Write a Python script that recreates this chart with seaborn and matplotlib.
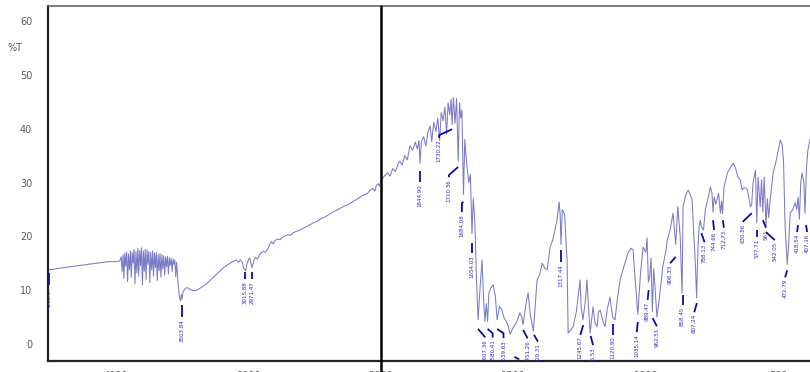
import numpy as np
import pandas as pd
import matplotlib
matplotlib.use("Agg")
import matplotlib.pyplot as plt
import seaborn as sns
from matplotlib import font_manager
from matplotlib.ticker import FixedLocator

# ---------------- spectrum data (wavenumber cm-1, %T) ----------------
wn_left = [4515, 4508, 4500, 4470, 4420, 4360, 4300, 4240, 4180, 4120, 4060, 4000, 3975,
           3968, 3960, 3953, 3946, 3940, 3933, 3926, 3919, 3912, 3905, 3898, 3891, 3884, 3877,
           3870, 3863, 3856, 3849, 3842, 3835, 3828, 3821, 3814, 3807, 3800, 3793, 3786, 3779,
           3772, 3765, 3758, 3751, 3744, 3737, 3730, 3723, 3716, 3709, 3702, 3695, 3688, 3681,
           3674, 3667, 3660, 3653, 3646, 3639, 3632, 3625, 3618, 3611, 3604, 3597, 3590, 3583,
           3576, 3569, 3562, 3555, 3548, 3542, 3536,
           3528, 3520, 3512, 3506, 3500, 3494, 3486, 3476, 3465, 3450, 3430, 3410, 3390, 3370,
           3350, 3320, 3290, 3260, 3230, 3200, 3170, 3140, 3110, 3090, 3075, 3060, 3045, 3035,
           3028, 3020, 3012, 3000, 2990, 2980, 2973, 2965, 2955, 2945, 2930, 2915, 2900, 2885,
           2870, 2855, 2840, 2825, 2812, 2800, 2780, 2760, 2740, 2720, 2700, 2680, 2660, 2640,
           2620, 2600, 2570, 2540, 2510, 2480, 2450, 2420, 2390, 2360, 2330, 2300, 2270, 2240,
           2210, 2180, 2150, 2120, 2100, 2080, 2060, 2045, 2035, 2020, 2010]
t_left = [13.7, 13.9, 13.8, 13.9, 14.1, 14.3, 14.5, 14.7, 14.9, 15.1, 15.3, 15.3, 15.4,
          15.6, 16.2, 13.5, 16.6, 12.2, 16.9, 14.5, 17.1, 11.6, 16.7, 13.8, 17.3, 12.4, 17.0,
          15.0, 17.6, 11.2, 17.2, 13.2, 17.8, 12.6, 17.4, 14.6, 17.9, 11.0, 17.3, 13.5, 17.6,
          12.0, 17.5, 14.8, 17.2, 11.4, 17.0, 13.8, 17.3, 12.6, 16.9, 14.2, 17.0, 11.8, 16.6,
          13.6, 16.8, 12.4, 16.6, 14.0, 16.4, 12.8, 16.2, 14.4, 16.3, 13.0, 16.0, 14.6, 15.9,
          13.4, 15.8, 14.8, 15.6, 12.5, 15.2, 13.0,
          10.5, 8.6, 8.0, 9.2, 8.4, 9.6, 10.0, 10.3, 10.5, 10.3, 10.0, 9.9, 10.0, 10.3,
          10.6, 11.1, 11.8, 12.5, 13.2, 13.9, 14.5, 15.0, 15.4, 15.6, 15.2, 15.6, 15.1, 14.0,
          13.9, 13.6, 14.8, 15.6, 16.0, 14.9, 14.2, 14.8, 15.8, 16.1, 15.8, 16.6, 17.0, 17.2,
          17.0, 17.6, 18.4, 19.0, 18.6, 19.2, 19.5, 19.4, 19.9, 20.1, 20.3, 20.2, 20.7, 20.9,
          21.1, 21.3, 21.7, 22.1, 22.5, 22.8, 23.3, 23.6, 24.1, 24.5, 24.9, 25.3, 25.7, 26.0,
          26.5, 26.9, 27.4, 27.8, 28.0, 28.6, 28.9, 28.4, 29.4, 29.8, 29.3]

wn_right = [2000, 1990, 1975, 1965, 1955, 1945, 1935, 1928, 1920, 1910, 1900, 1890, 1880, 1870,
            1862, 1856, 1852, 1847, 1838, 1830, 1822, 1814, 1808, 1800, 1792, 1785, 1778, 1772,
            1765, 1758, 1752, 1746, 1740, 1735, 1731, 1726, 1720, 1714, 1708, 1703, 1698, 1694,
            1691, 1688, 1683, 1676, 1668, 1662, 1656, 1651, 1645, 1639, 1633, 1626, 1618, 1612,
            1607, 1602, 1597, 1592, 1584, 1576, 1568, 1561, 1552, 1543, 1536, 1530, 1520, 1512,
            1501, 1488, 1475, 1468, 1463, 1452, 1444, 1436, 1430, 1424, 1416, 1410, 1400, 1391,
            1380, 1372, 1361, 1350, 1335, 1327, 1323, 1320, 1315, 1306, 1300, 1297, 1293, 1285,
            1274, 1262, 1248, 1244, 1237, 1228, 1222, 1215, 1210, 1199, 1192, 1184, 1178, 1172,
            1160, 1154, 1145, 1135, 1125, 1116, 1108, 1097, 1085, 1067, 1055, 1048, 1040, 1030,
            1020, 1010, 1000, 995, 990, 985, 980, 975, 970, 963, 958, 950, 943, 936, 925, 918,
            908, 897, 887, 879, 870, 863, 859, 850, 840, 830, 825, 818, 812, 808, 803, 798,
            794, 790, 782, 775, 765, 756, 750, 746, 742, 735, 725, 718, 714, 710, 705, 692,
            680, 669, 660, 652, 643, 636, 630, 622, 616, 610, 605, 600, 595, 586, 581, 576,
            568, 563, 558, 553, 546, 541, 536, 530, 519, 508, 500, 492, 485, 480, 474, 466,
            460, 455, 445, 436, 430, 425, 420, 415, 410, 403, 399, 393, 388, 382, 380]
t_right = [30.2, 31.0, 31.8, 31.2, 32.6, 32.0, 33.4, 34.0, 33.2, 35.0, 34.2, 36.8, 36.0, 37.5,
           36.2, 37.8, 33.6, 37.6, 38.5, 36.8, 39.5, 40.5, 37.6, 41.2, 39.5, 42.0, 37.8, 43.0,
           41.5, 44.0, 39.0, 44.8, 42.6, 45.5, 40.8, 45.8, 41.0, 45.6, 34.0, 44.8, 42.0, 43.5,
           36.0, 27.8, 38.0, 33.5, 30.0, 31.5, 20.5, 27.0, 22.5, 12.0, 4.5, 10.0, 15.6, 8.0,
           4.2, 7.5, 4.2, 9.5, 10.5, 11.0, 9.0, 4.5, 7.0, 6.3, 5.0, 4.5, 3.5, 1.8,
           3.0, 4.0, 5.8, 5.0, 3.6, 7.5, 9.5, 5.5, 4.0, 2.4, 8.0, 11.9, 13.0, 15.0,
           14.0, 13.8, 18.0, 19.5, 23.0, 26.4, 24.0, 18.5, 25.0, 24.0, 18.0, 15.6, 2.0, 2.5,
           3.2, 6.0, 11.9, 7.0, 4.5, 8.0, 11.9, 6.0, 2.0, 6.9, 4.0, 3.2, 6.0, 6.3,
           4.0, 3.2, 6.5, 8.7, 5.0, 4.5, 8.0, 11.9, 14.0, 16.9, 17.8, 17.5, 12.0, 5.5,
           13.0, 18.0, 17.0, 19.7, 11.5, 12.5, 16.0, 6.0, 14.0, 9.0, 5.0, 8.0, 11.0, 14.3, 17.0, 19.5,
           21.2, 24.3, 18.5, 25.5, 20.0, 9.5, 25.5, 27.5, 28.6, 27.5, 26.8, 20.0, 14.0, 8.6, 18.0, 22.0,
           23.0, 21.8, 21.2, 25.0, 27.0, 29.2, 28.0, 24.5, 27.3, 26.0, 28.0, 24.3, 26.5, 24.2, 29.0, 31.8,
           32.8, 33.6, 32.5, 31.0, 30.5, 28.6, 29.0, 29.0, 28.6, 27.0, 25.5, 26.0, 30.0, 32.3, 22.5, 31.0,
           25.5, 30.5, 24.5, 31.0, 22.0, 27.0, 23.5, 27.0, 31.8, 34.0, 36.0, 37.9, 37.0, 34.0, 22.0, 14.8,
           19.0, 24.3, 25.0, 26.2, 25.0, 27.3, 23.2, 30.0, 31.8, 30.0, 24.3, 33.0, 36.0, 37.5, 38.0]

# ---------------- peak labels ----------------
label_text = ["4503.17", "3503.84", "3015.88", "2971.47",
              "1844.90", "1730.22", "1710.36", "1684.08", "1654.03",
              "1607.36", "1580.41", "1539.63", "1488.06", "1451.26", "1409.31",
              "1317.44", "1245.67", "1196.53", "1120.90", "1035.14", "989.47", "962.51",
              "906.33", "858.45", "807.24", "788.13", "744.66", "712.73", "630.86",
              "577.71", "561", "542.05", "472.79", "418.54", "407.16"]
# layout of the labels: text position, peak end of the leader, knee and stub end (%T)
label_wn = [4503, 3503.84, 3028, 2973,
            1852, 1780, 1743, 1694, 1656,
            1607, 1578, 1537, 1480, 1446, 1407,
            1320, 1247, 1199, 1123, 1034, 993, 958,
            908, 861, 817, 778, 742, 705, 634,
            581, 546, 513, 474, 429, 391]
label_peak_wn = [4503, 3503.84, 3028, 2973,
                 1852, 1731, 1708, 1688, 1656,
                 1633, 1597, 1561, 1496, 1463, 1422,
                 1320, 1236, 1208, 1123, 1030, 989, 974,
                 887, 861, 807, 790, 746, 709, 600,
                 581, 558, 546, 466, 425, 395]
label_peak_t = [13.2, 7.2, 13.4, 13.4,
                32.1, 39.9, 32.9, 26.4, 18.8,
                2.8, 2.8, 2.8, -2.4, 2.6, 1.7,
                17.5, 3.5, 1.5, 3.7, 4.1, 10.0, 4.8,
                16.2, 9.1, 7.6, 20.6, 23.0, 23.0, 24.3,
                21.2, 23.0, 20.8, 13.7, 22.1, 22.1]
label_knee_t = [13.2, 7.2, 13.4, 13.4,
                32.1, 38.8, 31.4, 26.2, 18.8,
                1.3, 2.0, 2.0, -2.8, 1.05, 0.45,
                17.5, 1.7, -0.2, 3.7, 2.2, 8.2, 3.3,
                15.0, 9.1, 5.9, 18.9, 21.2, 21.6, 22.7,
                21.2, 21.6, 19.3, 12.4, 20.8, 20.8]
label_stub_t = [11.0, 5.0, 12.1, 12.1,
                30.1, 38.3, 31.0, 24.5, 16.9,
                1.2, 1.2, 1.1, -2.9, 1.05, 0.45,
                15.2, 1.7, -0.2, 1.7, 2.2, 8.2, 3.3,
                15.0, 7.2, 5.9, 18.9, 21.2, 21.6, 22.7,
                19.9, 21.6, 19.3, 12.4, 20.8, 20.8]

x_major = [4000, 3000, 2000, 1500, 1000, 500]
x_minor = [4400, 4200, 3800, 3600, 3400, 3200, 2800, 2600, 2400, 2200,
           1900, 1800, 1700, 1600, 1400, 1300, 1200, 1100, 900, 800, 700, 600, 400]
y_major = [0, 10, 20, 30, 40, 50, 60]
y_minor = [-2, 2, 4, 6, 8, 12, 14, 16, 18, 22, 24, 26, 28, 32, 34, 36, 38,
           42, 44, 46, 48, 52, 54, 56, 58, 62]

# ---------------- styling ----------------
sns.set_style("white")
plt.rcParams["font.family"] = ["DejaVu Sans"]
fonts = font_manager.fontManager.ttflist
names = {f.name for f in fonts}
has_condensed = any(f.name == "DejaVu Sans" and f.stretch == "condensed" for f in fonts)
if "Liberation Sans Narrow" in names:
    lab_font = dict(family="Liberation Sans Narrow", fontsize=5.0)
elif has_condensed:
    lab_font = dict(family="DejaVu Sans", fontstretch="condensed", fontsize=4.4)
else:
    lab_font = dict(family="DejaVu Sans", fontsize=4.0)

fig = plt.figure(figsize=(8.1, 3.72), dpi=100)
ax = fig.add_axes([47.7 / 810, 11 / 372, 1 - 47.7 / 810, (361 - 6) / 372])


def fwd(x):
    x = np.asarray(x, dtype=float)
    return np.where(x >= 2000, x, 2 * x - 2000)


def inv(u):
    u = np.asarray(u, dtype=float)
    return np.where(u >= 2000, u, (u + 2000) / 2)


ax.set_xscale("function", functions=(fwd, inv))

df = pd.DataFrame({"wn": wn_left + wn_right, "T": t_left + t_right})
sns.lineplot(data=df, x="wn", y="T", sort=False, estimator=None, ax=ax,
             color="#6c6cc2", lw=0.75, alpha=0.9)

ax.set_xlim(4515, 380)
ax.set_ylim(-3.16, 62.8)
ax.set_xlabel("")
ax.set_ylabel("")

ax.xaxis.set_major_locator(FixedLocator(x_major))
ax.xaxis.set_minor_locator(FixedLocator(x_minor))
ax.set_xticklabels([str(v) for v in x_major])
ax.yaxis.set_major_locator(FixedLocator(y_major))
ax.yaxis.set_minor_locator(FixedLocator(y_minor))
ax.set_yticklabels([str(v) for v in y_major])

tick_col = "#333333"
ax.tick_params(axis="x", which="major", direction="out", length=7, width=1.3,
               color=tick_col, labelsize=7, labelcolor="#5e5a58", pad=0.0)
ax.tick_params(axis="x", which="minor", direction="out", length=3, width=1.1, color=tick_col)
ax.tick_params(axis="y", which="major", direction="out", length=9, width=1.0,
               color=tick_col, labelsize=7, labelcolor="#5e5a58", pad=2.2)
ax.tick_params(axis="y", which="minor", direction="out", length=5.8, width=1.0, color=tick_col)

for side in ["left", "bottom"]:
    ax.spines[side].set_color("#222222")
    ax.spines[side].set_linewidth(1.6)
ax.spines["top"].set_color("#666666")
ax.spines["top"].set_linewidth(1.2)
ax.spines["right"].set_visible(False)

# divider between the two wavenumber scales
ax.axvline(2000, ymin=-0.05, ymax=1, color="black", lw=1.8, clip_on=False, zorder=5)

# peak labels
for txt, tw, pw, pt, kt, st in zip(label_text, label_wn, label_peak_wn,
                                   label_peak_t, label_knee_t, label_stub_t):
    ax.plot([pw, tw, tw], [pt, kt, st], color="#0b0ba6", lw=1.3,
            solid_capstyle="butt", zorder=4)
    ax.text(tw, st - 0.35, txt, rotation=90, ha="center", va="top",
            color="#2e2ec4", clip_on=True, zorder=4, **lab_font)

fig.text(8 / 810, 1 - 48 / 372, "%T", ha="left", va="center", fontsize=7, color="#5e5a58")

fig.savefig("out.png", dpi=100)
